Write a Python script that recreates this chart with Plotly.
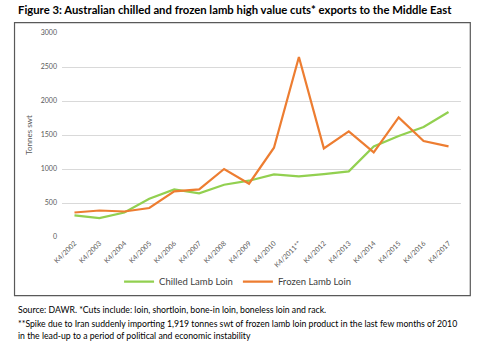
import plotly.graph_objects as go

categories = ["K4/2002", "K4/2003", "K4/2004", "K4/2005", "K4/2006", "K4/2007", "K4/2008",
              "K4/2009", "K4/2010", "K4/2011**", "K4/2012", "K4/2013", "K4/2014", "K4/2015",
              "K4/2016", "K4/2017"]
chilled = [318, 279, 360, 563, 700, 641, 769, 828, 921, 891, 926, 965, 1332, 1485, 1618, 1838]
frozen = [360, 390, 375, 426, 671, 700, 1000, 784, 1313, 2647, 1303, 1553, 1244, 1759, 1412, 1332]
y_ticks = [0, 500, 1000, 1500, 2000, 2500, 3000]

title = "Figure 3: Australian chilled and frozen lamb high value cuts* exports to the Middle East"
notes = [
    "Source: DAWR. *Cuts include: loin, shortloin, bone-in loin, boneless loin and rack.",
    "**Spike due to Iran suddenly importing 1,919 tonnes swt of frozen lamb loin product in the last few months of 2010",
    "in the lead-up to a period of political and economic instability",
]

W, H = 500, 345
L, R, T, B = 61.5, 460.7, 33.3, 237.3
FONT = "Lato"


def px(x):
    return (x - L) / (R - L)


def py(y):
    return (B - y) / (B - T)


fig = go.Figure()
fig.add_trace(go.Scatter(x=categories, y=chilled, mode="lines", name="Chilled Lamb Loin",
                         line=dict(color="#92D050", width=2.2)))
fig.add_trace(go.Scatter(x=categories, y=frozen, mode="lines", name="Frozen Lamb Loin",
                         line=dict(color="#ED7D31", width=2.2)))

fig.update_layout(
    width=W, height=H,
    margin=dict(l=L, r=W - R, t=T, b=H - B),
    paper_bgcolor="white", plot_bgcolor="white",
    font=dict(family=FONT, color="#595959"),
    showlegend=True,
    legend=dict(orientation="h", x=0.44, xanchor="center", y=py(282), yanchor="middle",
                font=dict(size=9.5, color="#404040"), itemwidth=30, bgcolor="rgba(0,0,0,0)"),
    xaxis=dict(type="category", tickangle=-45, tickfont=dict(size=7, color="#595959"),
               showgrid=False, showline=False, ticks="", range=[-0.5, 15.5]),
    yaxis=dict(range=[0, 3000], tickvals=y_ticks, tickfont=dict(size=7, color="#595959"),
               showgrid=True, gridcolor="#D9D9D9", gridwidth=1, zeroline=False,
               showline=False, ticks="", ticklen=0, ticklabelstandoff=4,
               title=dict(text="Tonnes swt", font=dict(size=8, color="#595959"), standoff=6)),
)

fig.add_shape(type="rect", xref="paper", yref="paper",
              x0=px(14), x1=px(470), y0=py(296), y1=py(23),
              line=dict(color="#595959", width=1.2), fillcolor="rgba(0,0,0,0)")

fig.add_annotation(text="<b>" + title + "</b>", xref="paper", yref="paper",
                   x=px(15), y=py(10), xanchor="left", yanchor="middle", showarrow=False,
                   font=dict(size=11.3, color="black", family=FONT))
for txt, yy in zip(notes, [310, 324, 336]):
    fig.add_annotation(text=txt, xref="paper", yref="paper",
                       x=px(15), y=py(yy), xanchor="left", yanchor="middle", showarrow=False,
                       font=dict(size=8.7, color="black", family=FONT))

fig.write_html("out.html")
